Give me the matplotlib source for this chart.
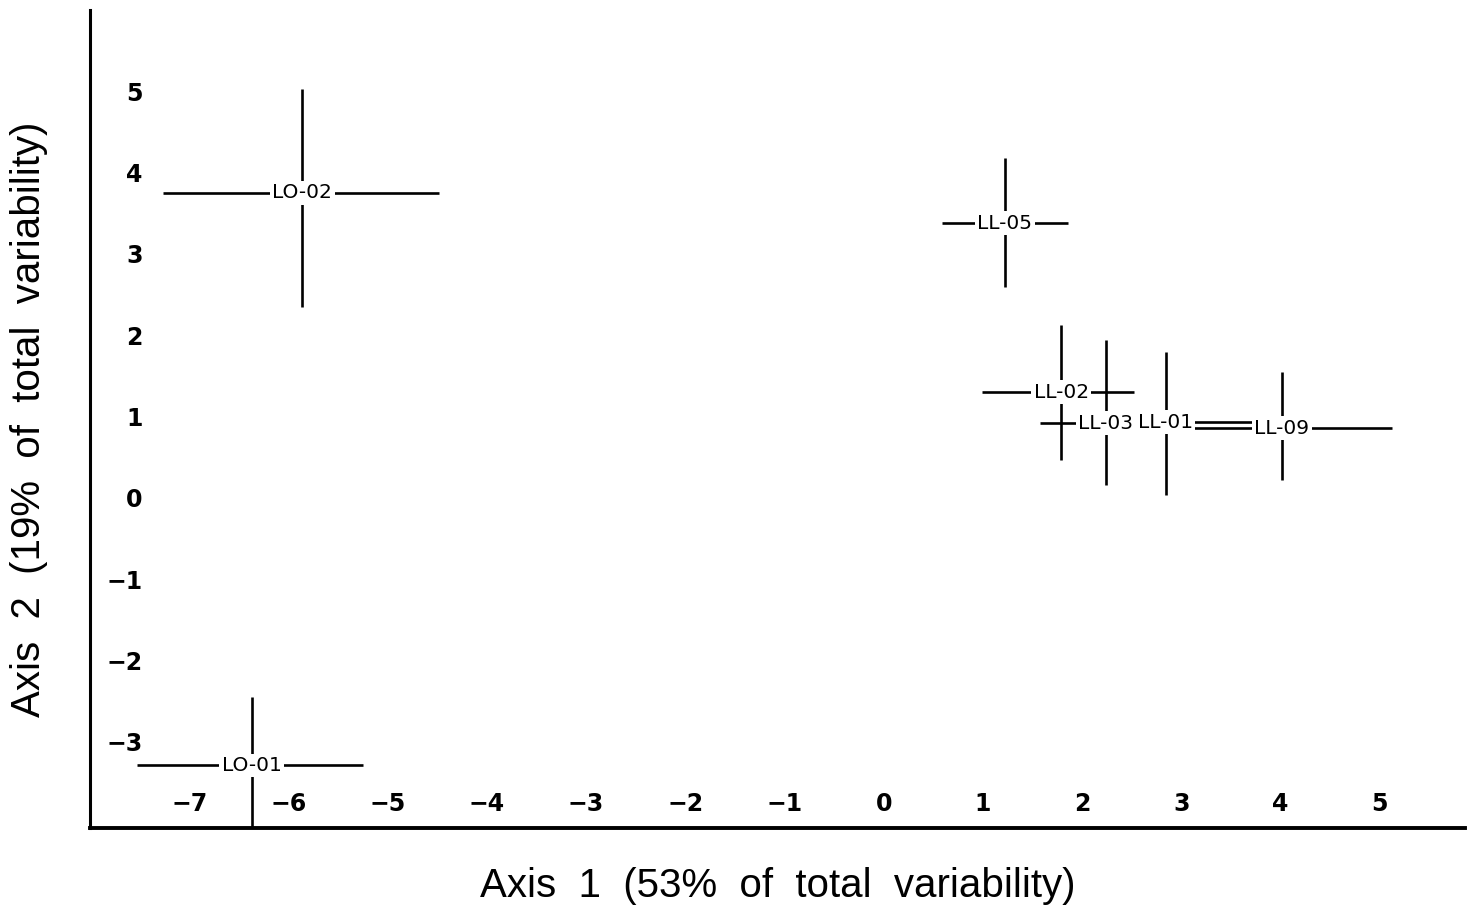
# Ordination plot: group centroids with spread bars on the first two axes
import matplotlib.pyplot as plt

labels = ['LO-02', 'LO-01', 'LL-05', 'LL-02', 'LL-03', 'LL-01', 'LL-09']
cx = [-5.86, -6.37, 1.22, 1.79, 2.24, 2.84, 4.01]
cy = [3.75, -3.29, 3.38, 1.30, 0.92, 0.93, 0.86]
x_left = [-7.26, -7.53, 0.59, 0.99, 1.58, 2.62, 3.04]
x_right = [-4.48, -5.25, 1.86, 2.52, 2.46, 3.80, 5.12]
y_low = [2.35, -4.30, 2.60, 0.47, 0.16, 0.04, 0.22]
y_high = [5.03, -2.45, 4.18, 2.13, 1.94, 1.80, 1.55]

xticks = [-7, -6, -5, -4, -3, -2, -1, 0, 1, 2, 3, 4, 5]
yticks = [-3, -2, -1, 0, 1, 2, 3, 4, 5]

fig = plt.figure(figsize=(14.74, 9.11), dpi=100)
ax = fig.add_axes([0.061, 0.091, 0.933, 0.898])

xerr = [[c - lo for c, lo in zip(cx, x_left)], [hi - c for c, hi in zip(cx, x_right)]]
yerr = [[c - lo for c, lo in zip(cy, y_low)], [hi - c for c, hi in zip(cy, y_high)]]
ax.errorbar(cx, cy, xerr=xerr, yerr=yerr, fmt='none', ecolor='black',
            elinewidth=1.9, capsize=0, zorder=2)

for lab, x, y in zip(labels, cx, cy):
    ax.text(x, y, lab, ha='center', va='center', fontsize=14.5,
            family='DejaVu Sans', zorder=3,
            bbox=dict(boxstyle='square,pad=0.12', fc='white', ec='none'))

ax.set_xlim(-8, 5.86)
ax.set_ylim(-4.06, 6.0)
ax.set_xticks(xticks)
ax.set_yticks(yticks)
ax.tick_params(axis='x', length=0, pad=-26, labelsize=17)
ax.tick_params(axis='y', length=0, pad=-38, labelsize=17)
for t in ax.get_xticklabels() + ax.get_yticklabels():
    t.set_fontweight('bold')

ax.spines['top'].set_visible(False)
ax.spines['right'].set_visible(False)
ax.spines['left'].set_linewidth(2.2)
ax.spines['bottom'].set_linewidth(2.8)

ax.set_xlabel('Axis  1  (53%  of  total  variability)', fontsize=29,
              family='Liberation Sans', labelpad=28)
ax.set_ylabel('Axis  2  (19%  of  total  variability)', fontsize=29,
              family='Liberation Sans', labelpad=30)

fig.savefig('out.png', dpi=100)
